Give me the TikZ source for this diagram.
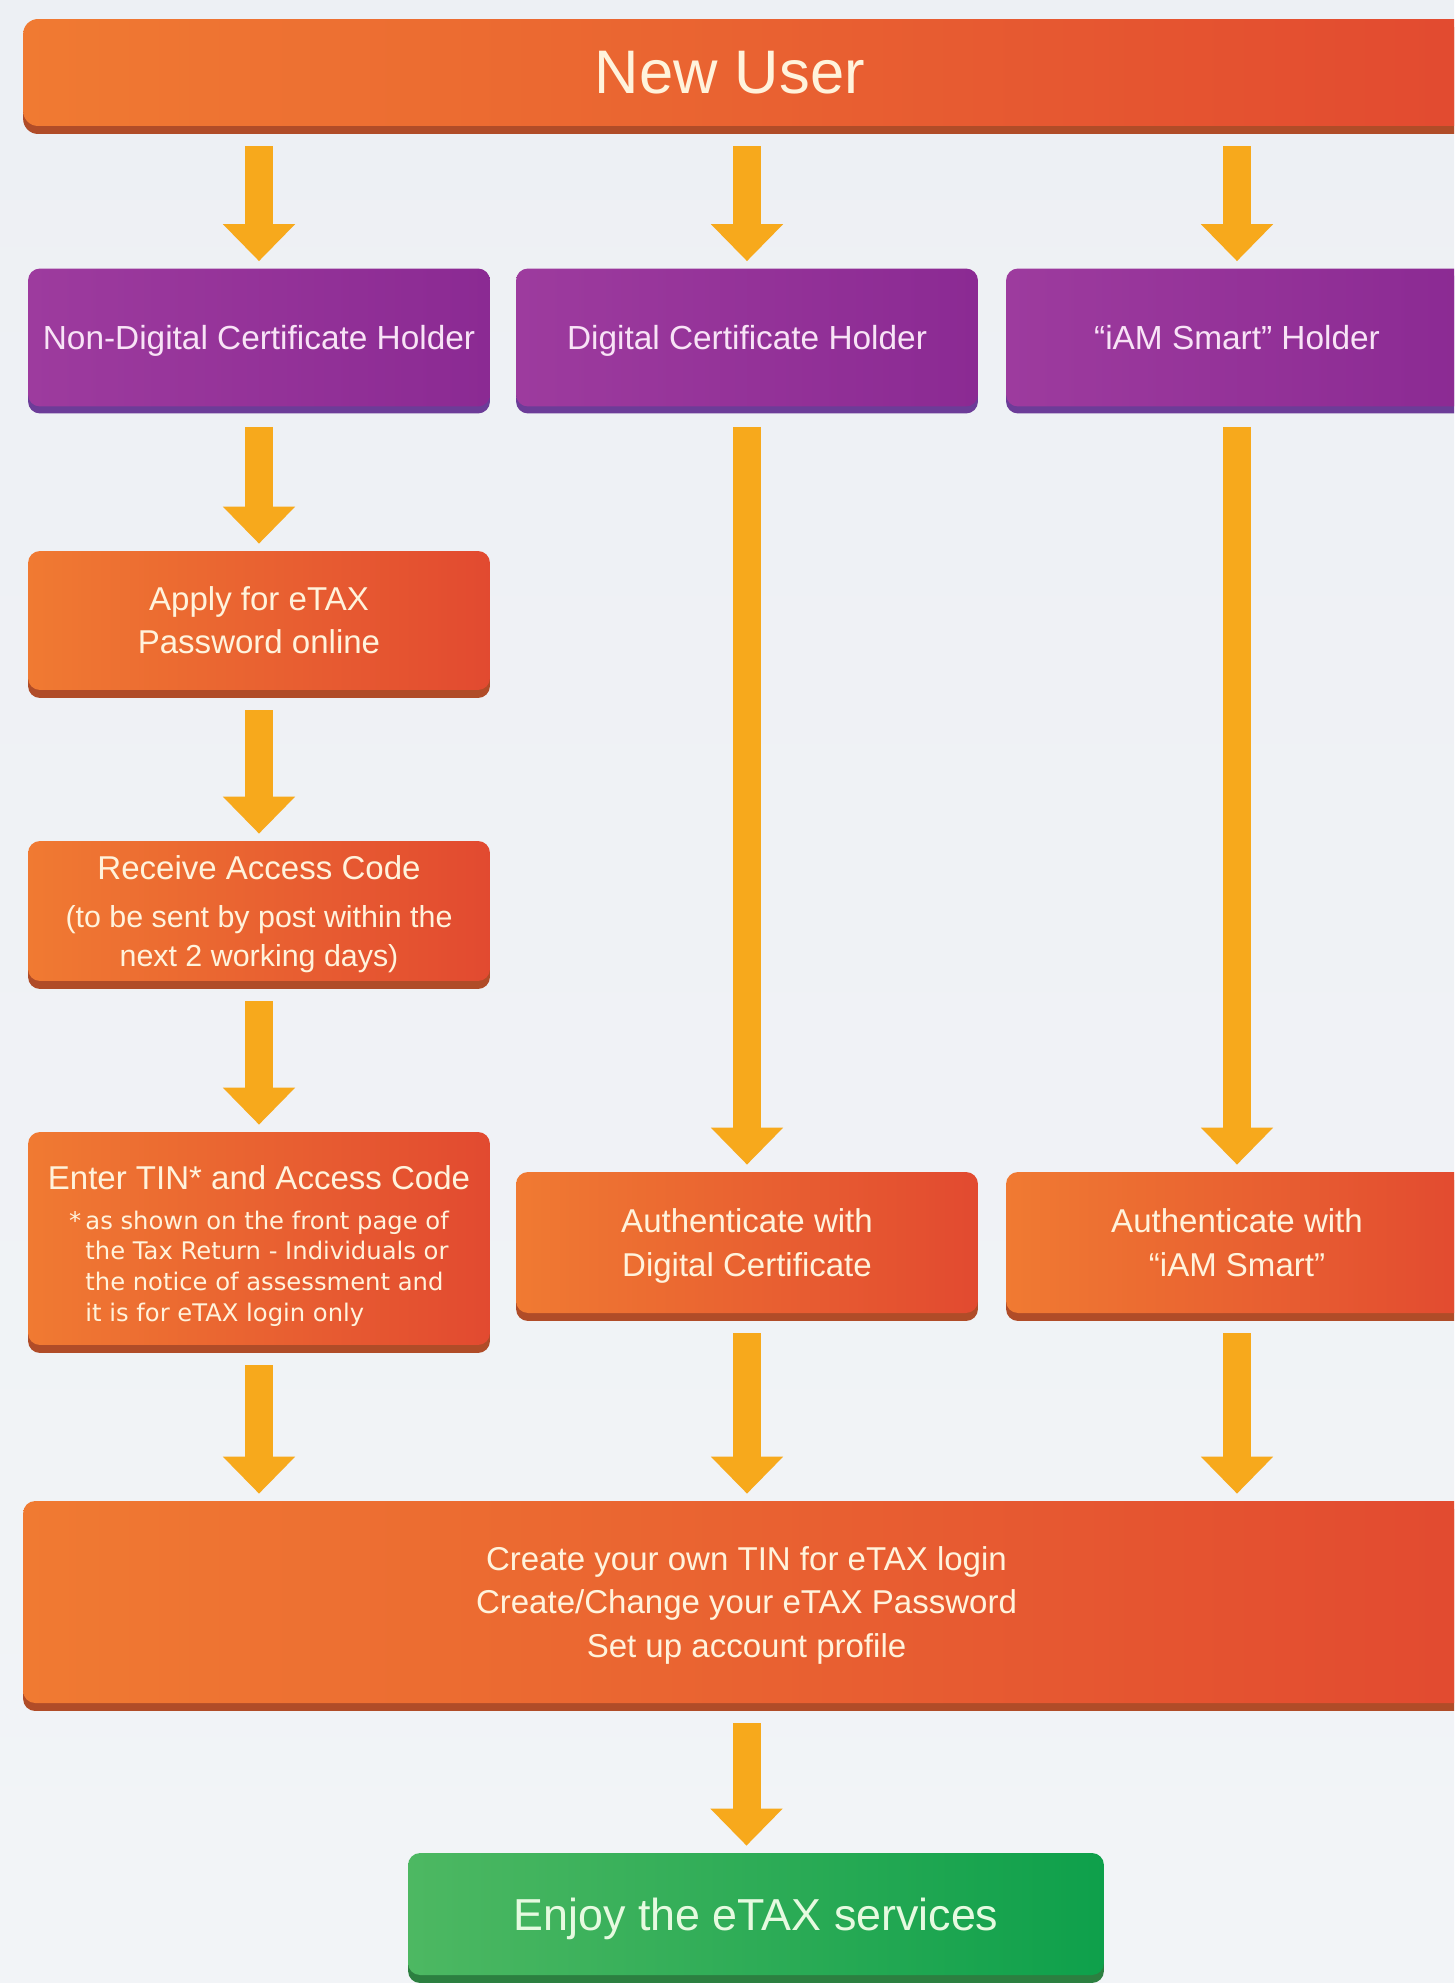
\documentclass[tikz,border=0pt]{standalone}
\usepackage{fontspec}
\setmainfont{Liberation Sans}
\newfontfamily\notefont{DejaVu Sans}
\usetikzlibrary{arrows.meta,shadows}
\definecolor{orleft}{HTML}{F07A32}
\definecolor{orright}{HTML}{E24A30}
\definecolor{orshade}{HTML}{B04C28}
\definecolor{puleft}{HTML}{9D3B9E}
\definecolor{puright}{HTML}{8B2A93}
\definecolor{pushade}{HTML}{6C3C98}
\definecolor{grleft}{HTML}{4DB862}
\definecolor{grright}{HTML}{0EA04B}
\definecolor{grshade}{HTML}{2C7F40}
\definecolor{arrowcol}{HTML}{F7A91C}
\definecolor{cream}{HTML}{FFF3DC}
\definecolor{pinkish}{HTML}{F8E3F6}
\definecolor{mint}{HTML}{E6FAE0}
\definecolor{bgtop}{HTML}{EDF0F4}
\definecolor{bgbot}{HTML}{F2F4F7}

\begin{document}
\begin{tikzpicture}[x=0.02cm,y=0.02cm] % 1 unit = 1 px
\tikzstyle{box} = [rounded corners=0.24cm, minimum width=9.24cm, minimum height=2.76cm, inner sep=0pt, text depth=-2pt, align=center, text=cream, font=\fontsize{18.8}{24.5}\selectfont] % common box
\tikzstyle{orbox} = [box, left color=orleft, right color=orright, drop shadow={shadow xshift=0cm, shadow yshift=-0.16cm, opacity=1, fill=orshade}] % orange step
\tikzstyle{pubox} = [box, left color=puleft, right color=puright, text=pinkish, font=\fontsize{19}{24.5}\selectfont, drop shadow={shadow xshift=0cm, shadow yshift=-0.14cm, opacity=1, fill=pushade}] % holder type
\tikzstyle{grbox} = [box, left color=grleft, right color=grright, text=mint, font=\fontsize{25.5}{30}\selectfont, drop shadow={shadow xshift=0cm, shadow yshift=-0.16cm, opacity=1, fill=grshade}] % last step
\tikzstyle{arr} = [draw=arrowcol, line width=0.56cm, -{Triangle[width=1.4cm,length=0.74cm]}, shorten <=0.4cm, shorten >=0.14cm] % thick yellow arrow
\useasboundingbox (0,0) rectangle (1454,-1983);
\clip (0,0) rectangle (1454,-1983);
\shade[top color=bgtop, bottom color=bgbot] (0,0) rectangle (1454,-1983); % background

\node[orbox, minimum width=28.94cm, minimum height=2.14cm, rounded corners=0.3cm, font=\fontsize{35}{40}\selectfont] (newuser) at (746.5,-72.5) {New User\hspace*{19pt}};

\node[pubox] (ndc) at (259,-337.5) {Non-Digital Certificate Holder};
\node[pubox] (dc) at (747,-337.5) {Digital Certificate Holder};
\node[pubox] (iam) at (1237,-337.5) {``iAM Smart'' Holder};

\node[orbox, minimum height=2.78cm] (apply) at (259,-620.5) {Apply for eTAX\\Password online};
\node[orbox, minimum height=2.8cm, text depth=-3.6pt] (receive) at (259,-911) {Receive Access Code\\[2.8pt]
  {\fontsize{17.3}{21.6}\selectfont (to be sent by post within the}\\[-2.8pt]
  {\fontsize{17.3}{21.6}\selectfont next 2 working days)}};
\node[orbox, minimum height=4.26cm, text depth=46.7pt] (enter) at (259,-1238.5) {Enter TIN* and Access Code\\[-2.2pt]
  {\notefont\fontsize{13.8}{17.6}\selectfont\begin{tabular}[t]{@{}r@{\,}l@{}}
  *&as shown on the front page of\\
   &the Tax Return - Individuals or\\
   &the notice of assessment and\\
   &it is for eTAX login only
  \end{tabular}}};

\node[orbox, minimum height=2.82cm] (authdc) at (747,-1242.5) {Authenticate with\\Digital Certificate};
\node[orbox, minimum height=2.82cm] (authiam) at (1237,-1242.5) {Authenticate with\\``iAM Smart''};

\node[orbox, minimum width=28.94cm, minimum height=4.04cm] (create) at (746.5,-1602) {Create your own TIN for eTAX login\\Create/Change your eTAX Password\\Set up account profile};

\node[grbox, minimum width=13.92cm, minimum height=2.44cm] (enjoy) at (756,-1914) {Enjoy the eTAX services};

% arrows
\draw[arr] (newuser.south -| ndc.north) -- (ndc.north);
\draw[arr] (newuser.south -| dc.north) -- (dc.north);
\draw[arr] (newuser.south -| iam.north) -- (iam.north);
\draw[arr] (ndc) -- (apply);
\draw[arr] (apply) -- (receive);
\draw[arr] (receive) -- (enter);
\draw[arr] (dc) -- (authdc);
\draw[arr] (iam) -- (authiam);
\draw[arr] (enter.south) -- (enter.south |- create.north);
\draw[arr] (authdc.south) -- (authdc.south |- create.north);
\draw[arr] (authiam.south) -- (authiam.south |- create.north);
\draw[arr] (create.south) -- (create.south |- enjoy.north);
\end{tikzpicture}
\end{document}
